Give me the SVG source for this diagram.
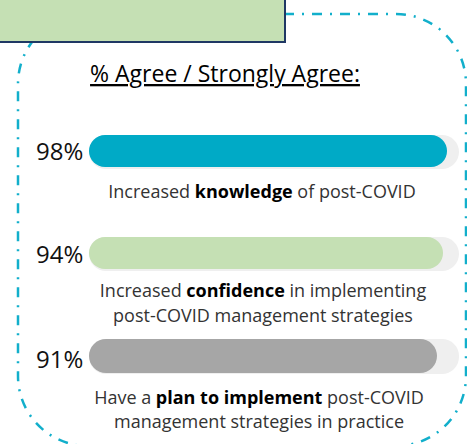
<svg xmlns="http://www.w3.org/2000/svg" width="467" height="444" viewBox="0 0 467 444">
<style>
.frame{fill:none;stroke:#12AFCB;stroke-width:2.5;stroke-dasharray:10 8 2 8;}
.track{fill:#EFEFEF;}
.pct{font-family:"Open Sans","Noto Sans",sans-serif;font-size:24px;fill:#111;}
.lbl{font-family:"Open Sans","Noto Sans",sans-serif;font-size:18px;fill:#333;text-anchor:middle;}
.lbl tspan.b{font-weight:bold;fill:#000;}
.title{font-family:"Open Sans","Noto Sans",sans-serif;font-size:23px;fill:#000;text-anchor:middle;text-decoration:underline;}
</style>
<rect width="467" height="444" fill="#fff"/>
<g id="frame">
<rect class="frame" x="18" y="14" width="448" height="432" rx="70" ry="70"/>
</g>
<g id="header-box">
<rect x="-4" y="-4" width="289" height="46" fill="#C5E0B4" stroke="#1F3864" stroke-width="2"/>
</g>
<g id="title">
<text class="title" x="225" y="82">% Agree / Strongly Agree:</text>
</g>
<g id="bar-knowledge">
<rect class="track" x="89" y="135" width="370" height="34" rx="17"/>
<rect x="89" y="135" width="358" height="32" rx="16" fill="#00AAC6"/>
<text class="pct" x="36" y="160">98%</text>
<text class="lbl" x="262" y="198">Increased <tspan class="b">knowledge</tspan> of post-COVID</text>
</g>
<g id="bar-confidence">
<rect class="track" x="89" y="237" width="370" height="34" rx="17"/>
<rect x="89" y="237" width="354" height="32" rx="16" fill="#C5E0B4"/>
<text class="pct" x="36" y="263">94%</text>
<text class="lbl" x="263" y="297">Increased <tspan class="b">confidence</tspan> in implementing</text>
<text class="lbl" x="263" y="322">post-COVID management strategies</text>
</g>
<g id="bar-plan">
<rect class="track" x="89" y="339" width="370" height="35" rx="17"/>
<rect x="89" y="339" width="348" height="34" rx="17" fill="#A6A6A6"/>
<text class="pct" x="36" y="368">91%</text>
<text class="lbl" x="259" y="404">Have a <tspan class="b">plan to implement</tspan> post-COVID</text>
<text class="lbl" x="259" y="428">management strategies in practice</text>
</g>
<g id="connectors"></g>
</svg>
